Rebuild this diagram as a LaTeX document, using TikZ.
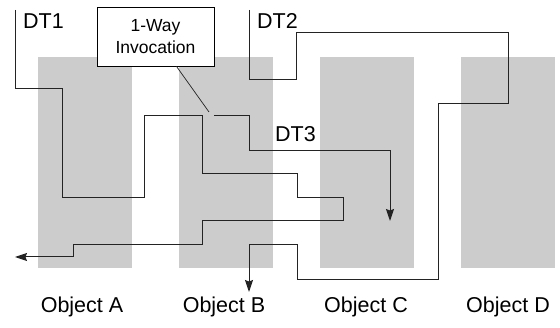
\documentclass[tikz,border=0pt]{standalone}
\usepackage{fontspec}
\setmainfont{Liberation Sans}
\usetikzlibrary{arrows.meta}
\definecolor{objgray}{RGB}{204,204,204}
\definecolor{linegray}{RGB}{35,35,35}
\begin{document}
\begin{tikzpicture}[x=1pt,y=-1pt,
  objbox/.style={fill=objgray,draw=none,minimum width=94pt,minimum height=211pt,inner sep=0pt},
  objlabel/.style={font=\fontsize{21.5}{25}\selectfont,inner sep=0pt},
  dtlabel/.style={font=\fontsize{21.5}{25}\selectfont,inner sep=0pt,anchor=base west},
  callout/.style={draw=black,fill=white,line width=0.8pt,minimum width=117pt,minimum height=59pt,inner sep=0pt,align=center,font=\fontsize{17.5}{22.5}\selectfont},
  thread/.style={draw=linegray,line width=1pt},
  tip/.style={-{Stealth[length=12pt,width=8pt,inset=1.5pt]}},
]
\useasboundingbox (0,0) rectangle (560,328);

% object columns
\node[objbox] (objA) at (85,162.5) {};
\node[objbox] (objB) at (226,162.5) {};
\node[objbox] (objC) at (367,162.5) {};
\node[objbox] (objD) at (508,162.5) {};

\node[objlabel] (labA) at (82,307) {Object A};
\node[objlabel] (labB) at (224,307) {Object B};
\node[objlabel] (labC) at (366,307) {Object C};
\node[objlabel] (labD) at (508,307) {Object D};

% thread start and end points
\coordinate (dt1s) at (15,10);
\coordinate (dt1e) at (15,257);
\coordinate (dt2s) at (249,10);
\coordinate (dt2e) at (249,292);
\coordinate (dt3s) at (214,116);
\coordinate (dt3e) at (390,221);
\coordinate (inv) at (209,112);

% thread labels
\node[dtlabel] (dt1) at (23,29) {DT1};
\node[dtlabel] (dt2) at (257,29) {DT2};
\node[dtlabel] (dt3) at (275,142) {DT3};

% thread DT1
\draw[thread,tip] (dt1s) -- (15,89) -- (62,89) -- (62,198) -- (144,198)
  -- (144,116) -- (202,116) -- (202,174) -- (297,174) -- (297,198)
  -- (343,198) -- (343,221) -- (202,221) -- (202,245) -- (73,245)
  -- (73,257) -- (dt1e);

% thread DT3, started by the one-way invocation
\draw[thread,tip] (dt3s) -- (249,116) -- (249,151) -- (390,151) -- (dt3e);

% thread DT2
\draw[thread,tip] (dt2s) -- (249,80) -- (296,80) -- (296,33) -- (508,33)
  -- (508,104) -- (438,104) -- (438,280) -- (297,280) -- (297,245)
  -- (249,245) -- (dt2e);

% invocation callout
\node[callout] (invbox) at (155.5,36.5) {1-Way\\Invocation};
\draw[linegray,line width=0.7pt] (invbox.south) ++(21,0) coordinate (cstart) (cstart) -- (inv);
\end{tikzpicture}
\end{document}
